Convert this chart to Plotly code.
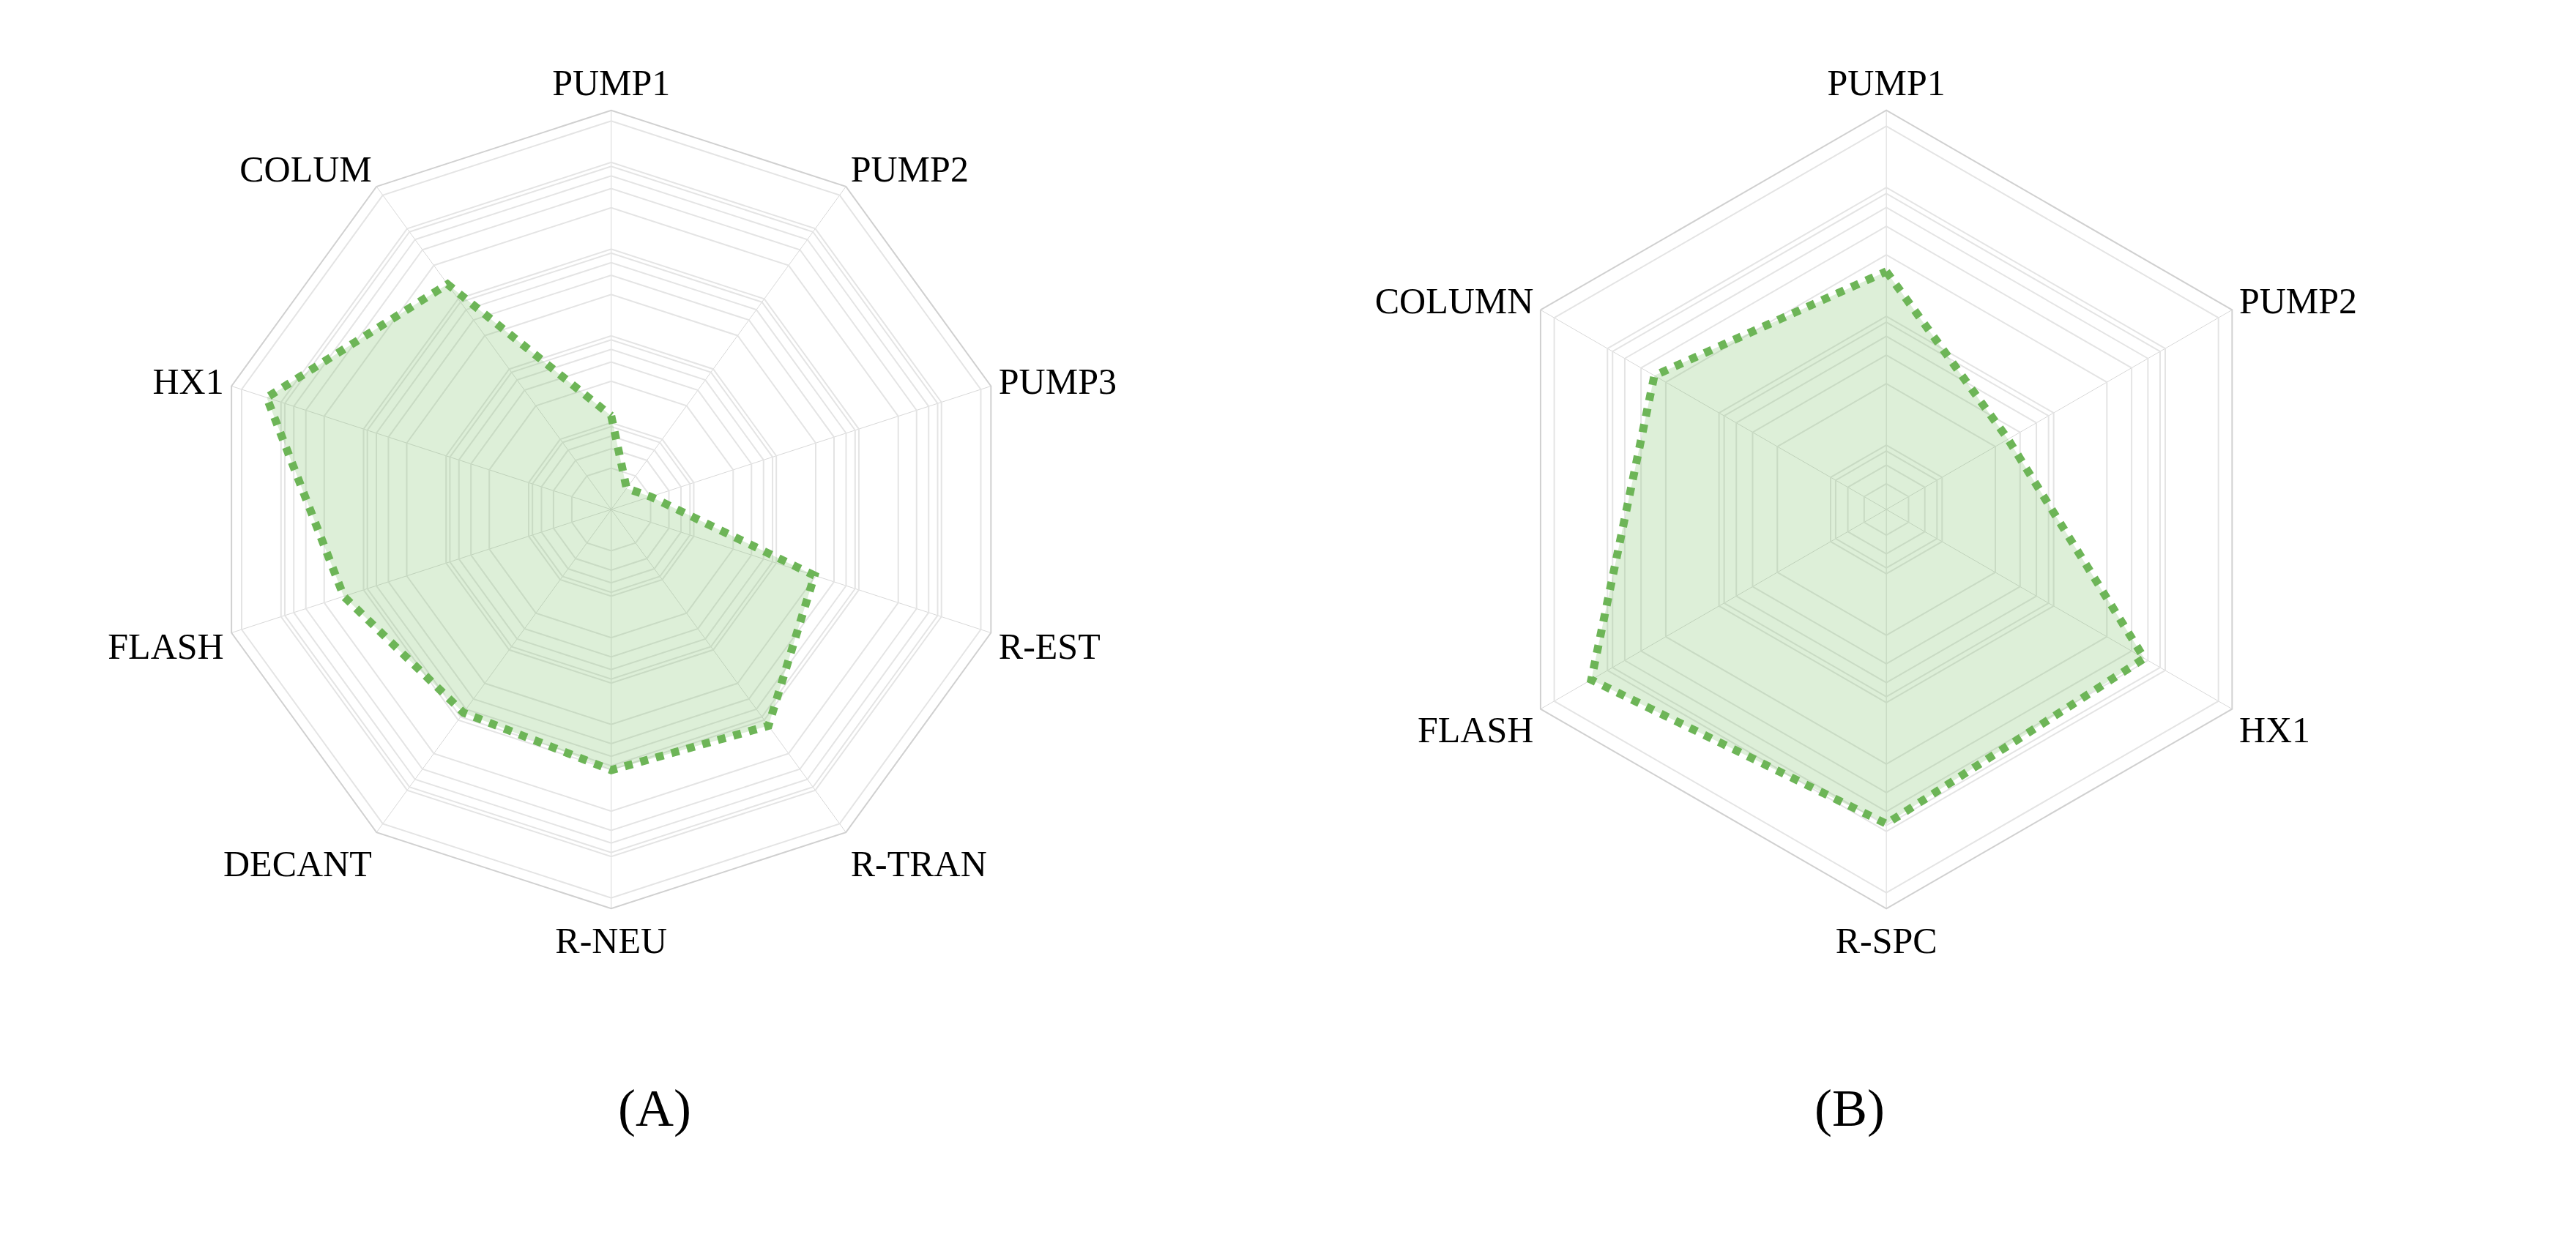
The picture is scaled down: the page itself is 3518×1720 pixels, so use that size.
import plotly.graph_objects as go

cats_a = ["PUMP1","PUMP2","PUMP3","R-EST","R-TRAN","R-NEU","DECANT","FLASH","HX1","COLUM"]
vals_a = [0.012,0.002,0.003,0.290,1.208,1.009,0.786,1.738,14.899,1.616]
labels_a = ["0.012","0.002","0.003","0.290","1.208","1.009","0.786","1.738","14.899","1.616"]
pos_a = ["top center","top right","top right","bottom right","bottom right","bottom center","bottom left","bottom left","bottom left","top left"]

cats_b = ["PUMP1","PUMP2","HX1","R-SPC","FLASH","COLUMN"]
vals_b = [2.23,0.39,6.50,8.74,13.97,3.80]
labels_b = ["2.23","0.39","6.50","8.74","13.97","3.80"]
pos_b = ["bottom center","bottom left","bottom right","bottom center","bottom left","top left"]

green = "#6db557"
fill = "rgba(120,190,100,0.25)"
font = "Liberation Serif"

fig = go.Figure()
def add(cats, vals, labels, pos, sub):
    fig.add_trace(go.Scatterpolar(r=vals+[vals[0]], theta=cats+[cats[0]], mode="lines", fill="toself",
        fillcolor=fill, line=dict(color=green, width=11, dash="dot"), subplot=sub, showlegend=False,
        hoverinfo="skip"))
    fig.add_trace(go.Scatterpolar(r=vals, theta=cats, mode="markers+text", text=labels, textposition=pos,
        marker=dict(size=1, opacity=0), cliponaxis=False,
        textfont=dict(family=font, size=42, color="black"), subplot=sub, showlegend=False))

add(cats_a, vals_a, labels_a, pos_a, "polar")
add(cats_b, vals_b, labels_b, pos_b, "polar2")

def polar(dom_x, rng):
    ticks = []
    for e in range(int(rng[0])-1, int(rng[1])+2):
        for m in range(1, 10, 2):
            ticks.append(m*10**e)
    return dict(domain=dict(x=dom_x, y=[0.27, 0.93]), gridshape="linear", bgcolor="white",
        radialaxis=dict(type="log", range=rng, showticklabels=False, ticks="", tickvals=ticks,
                        gridcolor="#e4e4e4", gridwidth=1.5, showline=False),
        angularaxis=dict(direction="clockwise", rotation=90, gridcolor="#d8d8d8", linecolor="#d0d0d0",
                         linewidth=2, ticks="", tickfont=dict(family=font, size=50, color="black")))

fig.update_layout(width=3518, height=1720, paper_bgcolor="white", margin=dict(l=0,r=0,t=0,b=0),
    polar=polar([0.08,0.39], [-3, 1.6]), polar2=polar([0.575,0.885], [-1.5, 1.6]),
    annotations=[dict(text="(A)", x=0.237, y=0.1, xref="paper", yref="paper", showarrow=False,
                      font=dict(family=font, size=72, color="black")),
                 dict(text="(B)", x=0.73, y=0.1, xref="paper", yref="paper", showarrow=False,
                      font=dict(family=font, size=72, color="black"))])
fig.write_html("out.html")
